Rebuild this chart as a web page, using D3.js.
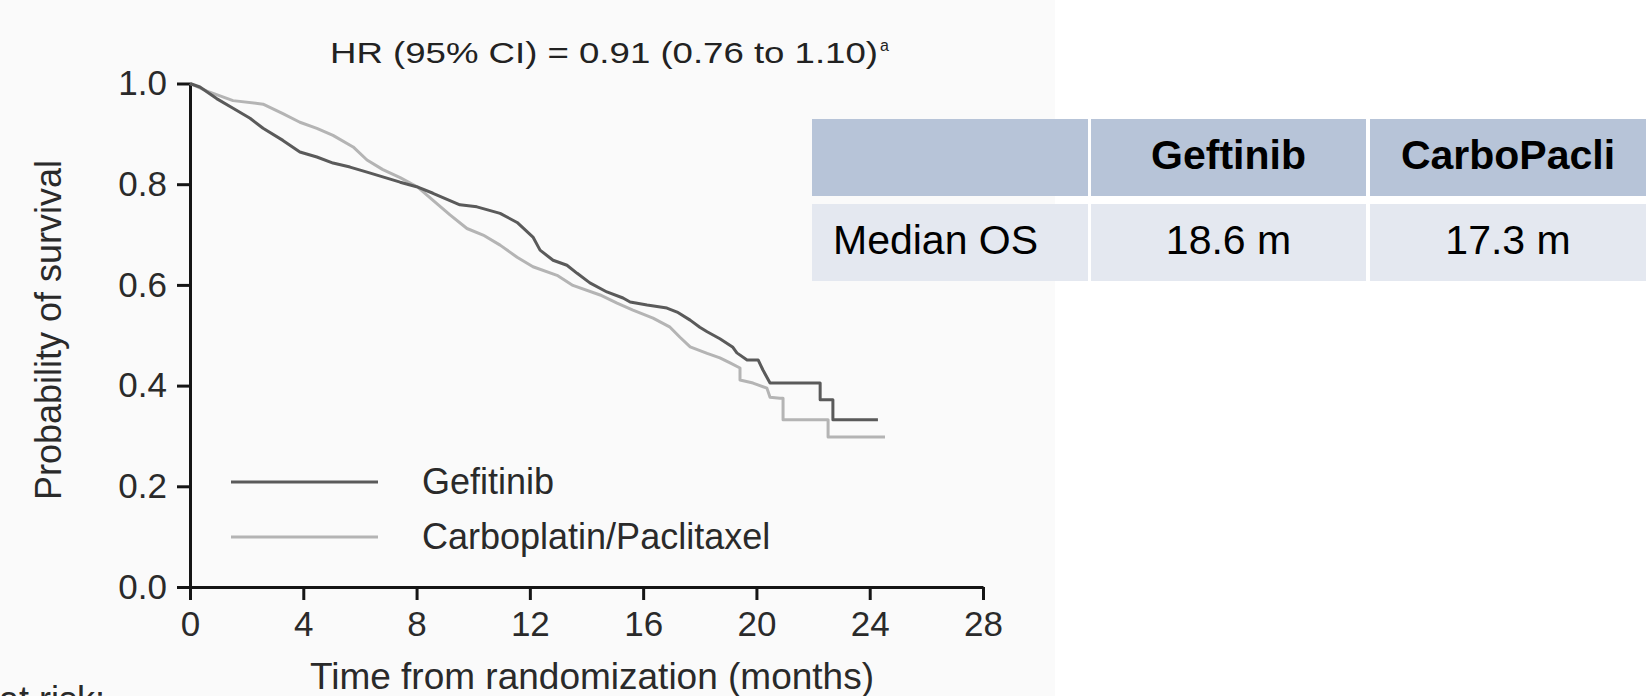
<!DOCTYPE html>
<html lang="en">
<head>
<meta charset="UTF-8">
<title>Overall survival</title>
<style>
  body { margin: 0; background: #fff; }
  svg { display: block; }
  text { font-family: "Liberation Sans", Arial, Helvetica, sans-serif; }
</style>
</head>
<body>
<script src="https://d3js.org/d3.v7.min.js"></script>
<script>

  // survival curves: [months, probability]
  var gefitinib = [
    [0, 1.0], [0.35, 0.993], [0.94, 0.970], [1.52, 0.951], [2.12, 0.931], [2.58, 0.911],
    [3.28, 0.887], [3.88, 0.864], [4.48, 0.854], [5.05, 0.842], [5.65, 0.834], [6.25, 0.824],
    [7.42, 0.804], [8.0, 0.795], [8.58, 0.782], [9.53, 0.759], [10.13, 0.755], [10.95, 0.742],
    [11.55, 0.724], [12.11, 0.695], [12.36, 0.669], [12.82, 0.649], [13.31, 0.639], [13.67, 0.623],
    [14.12, 0.604], [14.72, 0.586], [15.29, 0.574], [15.54, 0.566], [16.14, 0.560], [16.84, 0.554],
    [17.2, 0.546], [17.66, 0.530], [18.0, 0.516], [18.26, 0.507], [18.71, 0.493], [19.17, 0.476],
    [19.31, 0.465], [19.67, 0.451], [20.06, 0.451], [20.23, 0.431], [20.48, 0.405],
    [22.25, 0.405], [22.25, 0.372], [22.7, 0.372], [22.7, 0.332], [24.29, 0.332]
  ];
  var carboPacli = [
    [0, 1.0], [0.6, 0.985], [1.52, 0.966], [2.58, 0.959], [3.28, 0.940], [3.88, 0.923],
    [4.48, 0.911], [5.05, 0.897], [5.76, 0.874], [6.25, 0.848], [6.81, 0.829], [7.42, 0.813],
    [8.02, 0.795], [8.5, 0.772], [9.18, 0.739], [9.78, 0.712], [10.35, 0.699], [10.95, 0.679],
    [11.55, 0.655], [12.11, 0.636], [12.96, 0.619], [13.52, 0.599], [14.48, 0.580], [15.08, 0.564],
    [15.64, 0.550], [16.35, 0.534], [16.95, 0.516], [17.3, 0.496], [17.66, 0.477], [18.26, 0.464],
    [18.71, 0.455], [19.07, 0.445], [19.42, 0.435], [19.42, 0.411], [19.88, 0.405], [20.37, 0.395],
    [20.48, 0.377], [20.83, 0.375], [20.94, 0.375], [20.94, 0.332], [22.53, 0.332],
    [22.53, 0.298], [24.54, 0.298]
  ];

  var xTicks = [0, 4, 8, 12, 16, 20, 24, 28];
  var yTicks = [0, 0.2, 0.4, 0.6, 0.8, 1.0];
  var seriesNames = ["Gefitinib", "Carboplatin/Paclitaxel"];
  var seriesColors = ["#5a5a5a", "#b4b4b4"];

  var hrLabel = "HR (95% CI) = 0.91 (0.76 to 1.10)";
  var tableHeader = ["", "Geftinib", "CarboPacli"];
  var tableRow = ["Median OS", "18.6 m", "17.3 m"];

  var width = 1650, height = 696;

  var svg = d3.select("body").append("svg")
      .attr("width", width)
      .attr("height", height);

  // the pasted chart picture has a slightly grey background
  svg.append("rect")
      .attr("width", 1055).attr("height", height)
      .attr("fill", "#fafafa");

  var x = d3.scaleLinear().domain([0, 28]).range([190, 983]);
  var y = d3.scaleLinear().domain([0, 1]).range([587, 83.5]);

  // axes
  var xAxis = svg.append("g")
      .attr("transform", "translate(0," + y(0) + ")")
      .call(d3.axisBottom(x).tickValues(xTicks).tickSize(13).tickSizeOuter(0).tickPadding(11));
  var yAxis = svg.append("g")
      .attr("transform", "translate(" + x(0) + ",0)")
      .call(d3.axisLeft(y).tickValues(yTicks).tickFormat(d3.format(".1f"))
        .tickSize(13).tickSizeOuter(0).tickPadding(10));

  [xAxis, yAxis].forEach(function(a) {
    a.selectAll("path, line").attr("stroke", "#151515").attr("stroke-width", 3);
    a.selectAll("text").attr("font-size", 35).attr("fill", "#2a2a2a")
      .style("font-family", '"Liberation Sans", Arial, sans-serif');
  });

  // axis titles
  svg.append("text")
      .attr("x", 592).attr("y", 689)
      .attr("text-anchor", "middle")
      .attr("font-size", 37).attr("fill", "#2a2a2a")
      .text("Time from randomization (months)");
  svg.append("text")
      .attr("transform", "translate(61,330) rotate(-90)")
      .attr("text-anchor", "middle")
      .attr("font-size", 36).attr("fill", "#2a2a2a")
      .text("Probability of survival");

  // hazard ratio
  svg.append("text")
      .attr("x", 330).attr("y", 63)
      .attr("font-size", 30).attr("fill", "#222")
      .attr("textLength", 548).attr("lengthAdjust", "spacingAndGlyphs")
      .text(hrLabel);
  svg.append("text")
      .attr("x", 880).attr("y", 51)
      .attr("font-size", 16).attr("fill", "#222")
      .text("a");

  // curves
  var line = d3.line()
      .x(function(d) { return x(d[0]); })
      .y(function(d) { return y(d[1]); });

  [carboPacli, gefitinib].forEach(function(s, i) {
    svg.append("path")
        .datum(s)
        .attr("fill", "none")
        .attr("stroke", i === 0 ? seriesColors[1] : seriesColors[0])
        .attr("stroke-width", 3)
        .attr("stroke-linejoin", "round")
        .attr("d", line);
  });

  // legend
  var legend = svg.append("g");
  seriesNames.forEach(function(name, i) {
    var ly = 482 + i * 55;
    legend.append("line")
        .attr("x1", 231).attr("x2", 378)
        .attr("y1", ly).attr("y2", ly)
        .attr("stroke", seriesColors[i]).attr("stroke-width", 3);
    legend.append("text")
        .attr("x", 422).attr("y", ly + 12)
        .attr("font-size", 36).attr("fill", "#2a2a2a")
        .text(name);
  });

  // "at risk" label, cut off by the bottom edge as in the original slide
  svg.append("text")
      .attr("x", 105).attr("y", 712)
      .attr("text-anchor", "end")
      .attr("font-size", 36).attr("fill", "#2a2a2a")
      .text("Number at risk:");

  // median OS table
  var colX = [812, 1091, 1370];
  var colW = [276, 275, 276];
  var rows = [
    {cells: tableHeader, top: 119, fill: "#b7c4d8", bold: true},
    {cells: tableRow, top: 204, fill: "#e4e8f0", bold: false}
  ];
  var rowH = 77;

  rows.forEach(function(r) {
    r.cells.forEach(function(c, j) {
      svg.append("rect")
          .attr("x", colX[j]).attr("y", r.top)
          .attr("width", colW[j]).attr("height", rowH)
          .attr("fill", r.fill);
      svg.append("text")
          .attr("x", j === 0 ? colX[j] + 21 : colX[j] + colW[j] / 2)
          .attr("y", r.top + rowH / 2 + 11)
          .attr("text-anchor", j === 0 ? "start" : "middle")
          .attr("font-size", 41)
          .attr("font-weight", r.bold ? "bold" : "normal")
          .attr("fill", "#000")
          .text(c);
    });
  });

</script>
</body>
</html>
